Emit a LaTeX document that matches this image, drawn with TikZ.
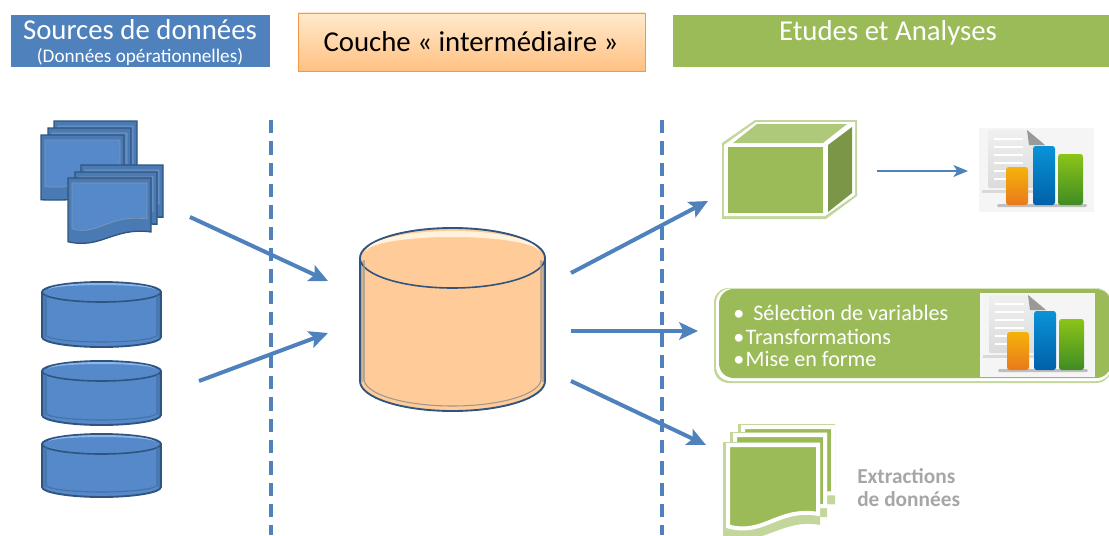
\documentclass[tikz,border=0pt]{standalone}
\usepackage{xcolor}
\usepackage{fontspec}
\setmainfont{Carlito}
\usetikzlibrary{arrows.meta}
\definecolor{hblue}{HTML}{4F81BD}
\definecolor{dkblue}{HTML}{2F5480}
\definecolor{midblue}{HTML}{4A7AB3}
\definecolor{fillblue}{HTML}{5589C9}
\definecolor{ltblue}{HTML}{8DB6EA}
\definecolor{hgreen}{HTML}{9BBB59}
\definecolor{ltgreen}{HTML}{C3D69B}
\definecolor{hborder}{HTML}{F79646}
\definecolor{peach}{HTML}{FFCC99}
\definecolor{peachlt}{HTML}{FFF3DE}
\definecolor{orangetop}{HTML}{F5B30A}
\definecolor{orangebot}{HTML}{E8791B}
\definecolor{bluetop}{HTML}{0A93D8}
\definecolor{bluebot}{HTML}{0060A8}
\definecolor{greentop}{HTML}{8CC418}
\definecolor{greenbot}{HTML}{3F8C24}
\tikzset{
  flow/.style={draw=hblue,line width=3pt,-{Stealth[length=14pt,width=13pt,inset=3pt]}},
  thinflow/.style={draw=hblue,line width=1.2pt,-{Stealth[length=11pt,width=9pt,inset=3pt]}},
  sep/.style={draw=hblue,line width=3.6pt,dash pattern=on 10pt off 6pt},
  headtxt/.style={text=white,inner sep=0pt,font=\fontsize{21.6}{24}\selectfont},
  itemtxt/.style={text=white,anchor=west,inner sep=0pt,font=\fontsize{16.6}{18}\selectfont},
  greytxt/.style={text=black!35,anchor=west,inner sep=0pt,font=\bfseries\fontsize{16}{18}\selectfont}
}
\newcommand\sheetpath[5]{(#1,#2)--({#1+#3},#2)--({#1+#3},{#2+#4-#5*.17*#4})..controls({#1+.55*#3},{#2+#4-#5*.25*#4}) and ({#1+.4*#3},{#2+#4+#5*.1*#4})..(#1,{#2+#4-#5*.02*#4})--cycle}
\newcommand\bluesheet[5]{
\filldraw[draw=dkblue,line width=1pt,fill=midblue]\sheetpath{#1}{#2}{#3}{#4}{#5};
\filldraw[draw=dkblue!60,line width=.5pt,fill=fillblue]\sheetpath{#1+4}{#2+5}{#3-8}{#4-9}{#5};
}
\newcommand\greensheet[5]{
\fill[ltgreen]\sheetpath{#1-5}{#2-3}{#3+7}{#4+7}{#5};
\filldraw[draw=white,line width=3pt,fill=hgreen]\sheetpath{#1}{#2}{#3}{#4}{#5};
}
\newcommand\dbdisk[8]{
\filldraw[draw=#7,line width=1.4pt,fill=#6](#1,#3)--(#1,#4) arc[start angle=180,end angle=0,x radius={(#2-#1)/2},y radius=#5]--(#2,#3) arc[start angle=0,end angle=-180,x radius={(#2-#1)/2},y radius=#5]--cycle;
\shade[left color=#6,right color=#7!50!#6](#2-5,#3+3) rectangle (#2-1,#4);
\shade[left color=#7!30!#6,right color=#6](#1+1,#3+3) rectangle (#1+5,#4);
\fill[#8](#1+6,#3-.2*#5) arc[start angle=180,end angle=360,x radius={(#2-#1)/2-6},y radius={.7*#5}] arc[start angle=0,end angle=-180,x radius={(#2-#1)/2-6},y radius={.5*#5}]--cycle;
\draw[draw=#7,line width=1.2pt](#1,#3) arc[start angle=180,end angle=0,x radius={(#2-#1)/2},y radius=#5];
\draw[draw=#7!45!#6,line width=.8pt](#1+4,#3+2)--(#1+4,#4-2) arc[start angle=180,end angle=0,x radius={(#2-#1)/2-4},y radius={#5-3}]--(#2-4,#3+2);
}
\newcommand\reporticon[2]{
\begin{scope}[shift={(#1,#2)}]
\fill[black!4](0,0) rectangle (115,84);
\fill[black!15](3,62) rectangle (66,65);
\shade[top color=black!6,bottom color=black!14,rounded corners=1.5pt](9,2)--(48,2)--(66,17)--(66,60)--(9,60)--cycle;
\fill[black!40](48,2)--(66,17)--(50,17)--cycle;
\foreach \yl in {10,18,26,34,42,50}{\fill[white](15,\yl) rectangle (44,\yl+1.6);}
\fill[black!25,rounded corners=1pt](18,76) rectangle (108,79);
\shade[top color=orangetop,bottom color=orangebot,rounded corners=2pt](27,39) rectangle (49,77);
\shade[top color=bluetop,bottom color=bluebot,rounded corners=2pt](54,18) rectangle (76,77);
\shade[top color=greentop,bottom color=greenbot,rounded corners=2pt](79,26) rectangle (104,77);
\end{scope}
}
\begin{document}
\begin{tikzpicture}[x=.75pt,y=-.75pt]
\useasboundingbox(0,0) rectangle (1109,535);
\clip(0,0) rectangle (1109,535);
\fill[hblue](11,15) rectangle (270,67);
\shade[top color=orange!8!peachlt,bottom color=peach!85!orange,draw=hborder](298,13) rectangle (645,71);
\fill[hgreen](673,15) rectangle (1109,67);
\node[headtxt](srchead) at (140,30){Sources de données};
\node[headtxt,font=\fontsize{14.4}{16}\selectfont](srcsub) at (140,57){(Données opérationnelles)};
\node[headtxt,text=black](midhead) at (471,42){Couche « intermédiaire »};
\node[headtxt](endhead) at (888,33){Etudes et Analyses};
\draw[sep](271,120)--(271,535);
\draw[sep](662,120)--(662,535);
\bluesheet{54}{121}{83}{66}{.2}
\bluesheet{48}{128}{83}{66}{.2}
\bluesheet{41}{135}{83}{65}{.2}
\bluesheet{81}{165}{82}{54}{.2}
\bluesheet{75}{172}{82}{54}{.2}
\bluesheet{68}{178}{83}{65}{1}
\dbdisk{42}{161}{292}{337}{10}{fillblue}{dkblue}{ltblue}
\dbdisk{42}{161}{371}{415}{10}{fillblue}{dkblue}{ltblue}
\dbdisk{42}{161}{444}{487}{10}{fillblue}{dkblue}{ltblue}
\dbdisk{360}{545}{258}{381}{30}{peach}{dkblue}{peachlt}
\fill[ltgreen](722,143)--(755,120)--(857,120)--(857,196)--(826,219)--(722,219)--cycle;
\fill[white](724,145)--(756,122)--(855,122)--(855,195)--(825,216)--(724,216)--cycle;
\fill[hgreen](728,147) rectangle (823,213);
\fill[hgreen!80!white](733,143)--(757,124)--(847,124)--(823,143)--cycle;
\fill[hgreen!80!black](828,145)--(852,127)--(852,193)--(828,212)--cycle;
\fill[ltgreen,rounded corners=11pt](714,288) rectangle (1111,383);
\fill[white,rounded corners=11pt](716,288.5) rectangle (1111,381);
\fill[hgreen,rounded corners=11pt](719,289) rectangle (1111,378);
\reporticon{979}{128}
\reporticon{980}{293}
\node[itemtxt](itema) at (733,313){•\hspace{3pt} Sélection de variables};
\node[itemtxt](itemb) at (733,337){•\hspace{1pt}Transformations};
\node[itemtxt](itemc) at (733,359){•\hspace{1pt}Mise en forme};
\greensheet{743}{427}{90}{70}{.3}
\greensheet{735}{435}{90}{75}{.3}
\greensheet{728}{445}{90}{83}{1}
\node[greytxt](extra) at (857,476){Extractions};
\node[greytxt](extrb) at (857,499){de données};
\coordinate(docsout) at (190,217);
\coordinate(dbsout) at (199,381);
\coordinate(midina) at (328,281);
\coordinate(midinb) at (328,333);
\coordinate(midouta) at (571,273);
\coordinate(midoutb) at (571,331);
\coordinate(midoutc) at (571,381);
\coordinate(cubein) at (708,201);
\coordinate(listin) at (698,331);
\coordinate(stackin) at (706,445);
\coordinate(cubeout) at (877,171);
\coordinate(iconin) at (968,171);
\draw[flow](docsout)--(midina);
\draw[flow](dbsout)--(midinb);
\draw[flow](midouta)--(cubein);
\draw[flow](midoutb)--(listin);
\draw[flow](midoutc)--(stackin);
\draw[thinflow](cubeout)--(iconin);
\end{tikzpicture}
\end{document}
